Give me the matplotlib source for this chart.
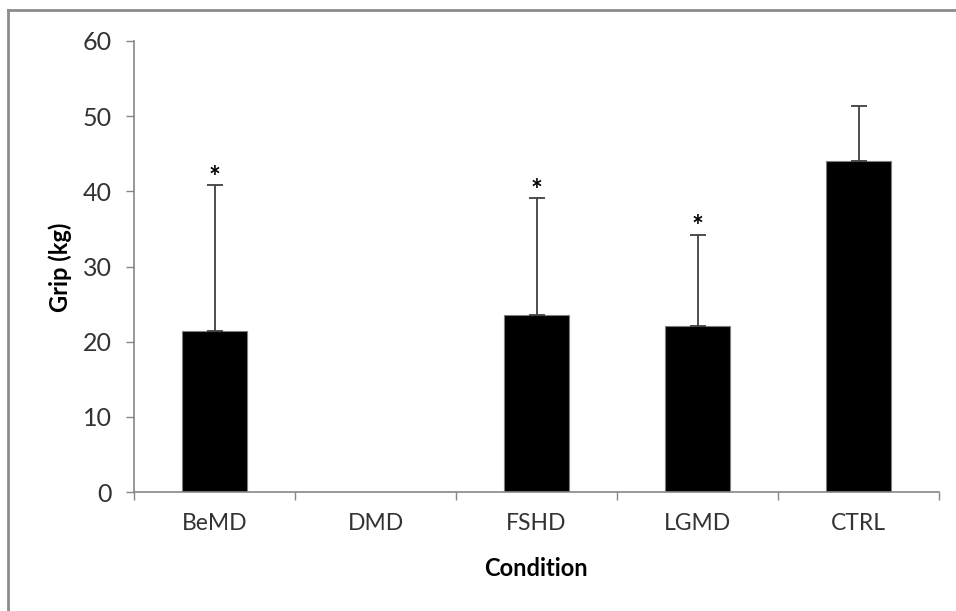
import matplotlib.pyplot as plt
from matplotlib.lines import Line2D

# grip strength by condition (mean and upper SD)
conditions = ['BeMD', 'DMD', 'FSHD', 'LGMD', 'CTRL']
grip_mean = [21.4, 0, 23.6, 22.1, 44.0]
grip_sd = [19.4, 0, 15.5, 12.1, 7.3]
signif = [True, False, True, True, False]

plt.rcParams['font.family'] = ['Lato', 'DejaVu Sans']

fig = plt.figure(figsize=(9.56, 6.11), dpi=100)
W, H = 956, 611
ax = fig.add_axes([134 / W, 1 - 492 / H, (939 - 134) / W, (492 - 41) / H])

x = list(range(len(conditions)))
edges = ['#7f7f7f' if m > 0 else 'none' for m in grip_mean]
ax.bar(x, grip_mean, width=0.4, color='black', edgecolor=edges, linewidth=0.8, zorder=2)

# only upper error bars, like the excel chart, and none for empty groups
ex = [xi for xi, s in zip(x, grip_sd) if s > 0]
ey = [m for m, s in zip(grip_mean, grip_sd) if s > 0]
es = [s for s in grip_sd if s > 0]
ax.errorbar(ex, ey, yerr=[[0] * len(es), es], fmt='none', ecolor='#404040',
            elinewidth=1.3, capsize=6, capthick=1.3, zorder=3)

for xi, m, s, sig in zip(x, grip_mean, grip_sd, signif):
    if sig:
        ax.annotate('*', (xi, m + s), xytext=(0, -4), textcoords='offset points',
                    ha='center', va='bottom', fontsize=20, fontweight='bold', color='black')

ax.set_xlim(-0.5, 4.5)
ax.set_ylim(0, 60)
ax.set_yticks(range(0, 61, 10))
ax.set_xticks(x)
ax.set_xticklabels(conditions)
ax.set_xticks([i - 0.5 for i in range(len(conditions) + 1)], minor=True)
ax.tick_params(axis='x', which='major', length=0, pad=15, labelsize=16.5, labelcolor='#333333')
ax.tick_params(axis='x', which='minor', length=6, width=1, color='#868686', direction='out')
ax.tick_params(axis='y', length=6, width=1, color='#868686', pad=10, labelsize=18, labelcolor='#333333')

for side in ['top', 'right']:
    ax.spines[side].set_visible(False)
for side in ['left', 'bottom']:
    ax.spines[side].set_color('#868686')
    ax.spines[side].set_linewidth(1.2)

fig.text(60 / W, 1 - 267 / H, 'Grip (kg)', rotation=90, ha='center', va='center',
         fontsize=17, fontweight='bold')
fig.text(536 / W, 1 - 568 / H, 'Condition', ha='center', va='center',
         fontsize=17, fontweight='bold')

# chart border (only top and left visible in the crop)
fig.add_artist(Line2D([8 / W, 1], [1 - 10 / H, 1 - 10 / H], color='#8c8c8c', linewidth=2))
fig.add_artist(Line2D([8 / W, 8 / W], [0, 1 - 10 / H], color='#8c8c8c', linewidth=2))

fig.savefig('out.png', dpi=100)
